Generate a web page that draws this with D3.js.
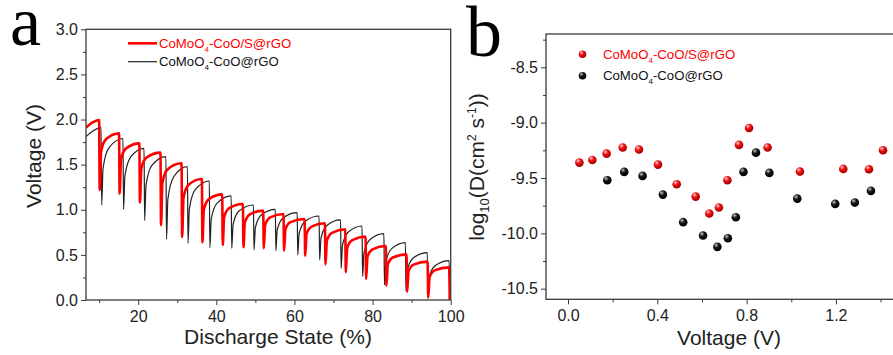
<!DOCTYPE html>
<html>
<head>
<meta charset="utf-8">
<script src="https://cdn.jsdelivr.net/npm/d3@7"></script>
<style>
  html, body { margin: 0; padding: 0; background: #fff; }
  svg { display: block; }
  text { font-family: Arial, "Liberation Sans", sans-serif; }
</style>
</head>
<body>
<svg id="chart" width="893" height="355"></svg>
<script>
// ---------- Panel a data (GITT discharge curves) ----------
const aXTicks = [20, 40, 60, 80, 100];
const aXMinor = [10, 30, 50, 70, 90];
const aYTicks = [0, 0.5, 1.0, 1.5, 2.0, 2.5, 3.0];
const aYMinor = [0.25, 0.75, 1.25, 1.75, 2.25, 2.75];

const redStart = [[6.64, 1.91], [8.2, 1.965]];
const redDropX = [10.0, 15.1, 20.3, 25.7, 31.1, 36.3, 41.5, 46.8, 52.0, 57.2, 62.6, 67.8, 73.0, 78.2, 83.4, 88.7, 94.1, 99.6];
const redPeakV = [1.995, 1.847, 1.736, 1.633, 1.515, 1.341, 1.171, 1.064, 0.99, 0.953, 0.898, 0.85, 0.783, 0.702, 0.599, 0.506, 0.425, 0.362];
const redBottomV = [1.22, 1.18, 1.08, 0.83, 0.70, 0.64, 0.61, 0.585, 0.573, 0.547, 0.488, 0.395, 0.307, 0.233, 0.159, 0.092, 0.026, 0.0];
const redKneeV = [1.646, 1.558, 1.456, 1.296, 1.136, 1.001, 0.919, 0.860, 0.831, 0.786, 0.734, 0.659, 0.576, 0.482, 0.395, 0.318, 0.254];
const redMidV = [1.784, 1.680, 1.578, 1.447, 1.277, 1.118, 1.019, 0.950, 0.915, 0.863, 0.814, 0.744, 0.663, 0.562, 0.471, 0.392, 0.328];

const blackStart = [[6.64, 1.81], [8.5, 1.875]];
const blackDropX = [10.5, 16.1, 21.5, 27.1, 32.6, 38.2, 43.8, 49.5, 55.1, 60.7, 66.3, 71.8, 77.3, 82.9, 88.4, 94.0, 99.6];
const blackPeakV = [1.91, 1.79, 1.68, 1.59, 1.478, 1.319, 1.153, 1.053, 1.005, 0.968, 0.931, 0.887, 0.82, 0.735, 0.635, 0.525, 0.436];
const blackBottomV = [1.053, 1.005, 0.88, 0.676, 0.628, 0.58, 0.573, 0.554, 0.547, 0.499, 0.443, 0.351, 0.259, 0.166, 0.10, 0.03, 0.0];
const blackKneeV = [1.458, 1.376, 1.271, 1.117, 1.008, 0.895, 0.837, 0.802, 0.779, 0.737, 0.687, 0.609, 0.521, 0.424, 0.334, 0.253];
const blackMidV = [1.687, 1.586, 1.491, 1.366, 1.222, 1.073, 0.986, 0.942, 0.909, 0.871, 0.825, 0.754, 0.668, 0.569, 0.466, 0.379];

// ---------- Panel b data (diffusion coefficients) ----------
const bXTicks = [0, 0.4, 0.8, 1.2];
const bXMinor = [0.2, 0.6, 1.0, 1.4];
const bYTicks = [-10.5, -10.0, -9.5, -9.0, -8.5];
const bYMinor = [-10.25, -9.75, -9.25, -8.75, -8.25];

const redVoltage = [0.051, 0.109, 0.173, 0.245, 0.318, 0.403, 0.487, 0.572, 0.633, 0.676, 0.714, 0.766, 0.811, 0.894, 1.039, 1.233, 1.348, 1.411];
const redLogD = [-9.361, -9.337, -9.280, -9.225, -9.243, -9.379, -9.556, -9.668, -9.821, -9.767, -9.520, -9.201, -9.048, -9.225, -9.442, -9.418, -9.421, -9.249];
const blackVoltage = [0.176, 0.252, 0.334, 0.425, 0.516, 0.605, 0.669, 0.716, 0.752, 0.786, 0.842, 0.902, 1.027, 1.197, 1.285, 1.357];
const blackLogD = [-9.520, -9.445, -9.481, -9.650, -9.899, -10.020, -10.122, -10.044, -9.854, -9.445, -9.271, -9.454, -9.686, -9.734, -9.722, -9.616];

const seriesNames = ["CoMoO", "4", "-CoO/S@rGO", "-CoO@rGO"];

// ---------- Drawing ----------
const svg = d3.select("#chart");
const RED = "#ff0000";
const BLK = "#222222";
const AX = "#3a3a3a";

const defs = svg.append("defs");
function sphereGrad(id, hi, mid, edge) {
  const g = defs.append("radialGradient").attr("id", id)
    .attr("cx", "40%").attr("cy", "35%").attr("r", "65%").attr("fx", "35%").attr("fy", "28%");
  g.append("stop").attr("offset", "0%").attr("stop-color", hi);
  g.append("stop").attr("offset", "45%").attr("stop-color", mid);
  g.append("stop").attr("offset", "100%").attr("stop-color", edge);
}
sphereGrad("gRed", "#ffd0d0", "#f01010", "#a00000");
sphereGrad("gBlk", "#c8c8c8", "#151515", "#000000");

function addTicks(g, axisFn, scale, major, minor, fmt, fontSize) {
  const ga = g.append("g").call(axisFn(scale).tickValues(major).tickFormat(fmt).tickSize(5).tickSizeOuter(0).tickPadding(3));
  ga.select(".domain").remove();
  ga.selectAll("line").attr("stroke", AX).attr("stroke-width", 1);
  ga.selectAll("text").attr("font-size", fontSize).attr("fill", "#222")
    .style("font-family", "Arial, 'Liberation Sans', sans-serif");
  const gm = g.append("g").call(axisFn(scale).tickValues(minor).tickFormat("").tickSize(3).tickSizeOuter(0));
  gm.select(".domain").remove();
  gm.selectAll("line").attr("stroke", AX).attr("stroke-width", 1);
  return ga;
}

// ===== Panel a =====
const aL = 86, aR = 450.7, aT = 29.3, aB = 300;
const xa = d3.scaleLinear().domain([6.64, 100]).range([aL, aR]);
const ya = d3.scaleLinear().domain([0, 3.0]).range([aB, aT]);

const ga = svg.append("g");
addTicks(ga.append("g").attr("transform", `translate(0,${aB})`), d3.axisBottom, xa, aXTicks, aXMinor, d => d3.format("d")(d), 16)
  .selectAll("text").attr("dy", "0.85em");
addTicks(ga.append("g").attr("transform", `translate(${aL},0)`), d3.axisLeft, ya, aYTicks, aYMinor, d => d.toFixed(1), 16);

defs.append("clipPath").attr("id", "clipA").append("rect")
  .attr("x", aL).attr("y", aT).attr("width", aR - aL).attr("height", aB - aT);

function buildCurve(start, dropX, peakV, bottomV, kneeV, midV, kneeDx, midDx) {
  const pts = start.slice();
  for (let i = 0; i < dropX.length; i++) {
    pts.push([dropX[i], peakV[i]]);
    pts.push([Math.min(dropX[i] + 0.15, 100), bottomV[i]]);
    if (i < dropX.length - 1) {
      pts.push([dropX[i] + kneeDx, kneeV[i]]);
      pts.push([dropX[i] + midDx, midV[i]]);
    }
  }
  return pts;
}
const lineA = d3.line().x(d => xa(d[0])).y(d => ya(d[1])).curve(d3.curveMonotoneX);
const blackPts = buildCurve(blackStart, blackDropX, blackPeakV, blackBottomV, blackKneeV, blackMidV, 0.5, 2.0);
const redPts = buildCurve(redStart, redDropX, redPeakV, redBottomV, redKneeV, redMidV, 0.5, 1.8);

const plotA = ga.append("g").attr("clip-path", "url(#clipA)");
plotA.append("path").attr("d", lineA(blackPts)).attr("fill", "none").attr("stroke", BLK).attr("stroke-width", 1.2);
plotA.append("path").attr("d", lineA(redPts)).attr("fill", "none").attr("stroke", RED).attr("stroke-width", 2.6);

ga.append("rect").attr("x", aL).attr("y", aT).attr("width", aR - aL).attr("height", aB - aT)
  .attr("fill", "none").attr("stroke", AX).attr("stroke-width", 1.3);

// legend a
function legendText(g, x, y, color, suffix) {
  const t = g.append("text").attr("x", x).attr("y", y).attr("font-size", 13.2).attr("fill", color);
  t.append("tspan").text(seriesNames[0]);
  t.append("tspan").attr("font-size", 8).attr("dy", 4).text(seriesNames[1]);
  t.append("tspan").attr("dy", -4).text(suffix);
}
ga.append("line").attr("x1", 128).attr("x2", 157).attr("y1", 43.3).attr("y2", 43.3).attr("stroke", RED).attr("stroke-width", 2.6);
legendText(ga, 159, 48, RED, seriesNames[2]);
ga.append("line").attr("x1", 128).attr("x2", 157).attr("y1", 61.7).attr("y2", 61.7).attr("stroke", BLK).attr("stroke-width", 1.2);
legendText(ga, 159, 66.3, "#111", seriesNames[3]);

ga.append("text").attr("x", 278).attr("y", 344).attr("text-anchor", "middle").attr("font-size", 21).attr("fill", "#222")
  .text("Discharge State (%)");
ga.append("text").attr("transform", "translate(41,156) rotate(-90)").attr("text-anchor", "middle").attr("font-size", 21).attr("fill", "#222")
  .text("Voltage (V)");
ga.append("text").attr("x", 10).attr("y", 45).attr("font-size", 70).attr("fill", "#000")
  .style("font-family", "'Liberation Serif', 'Times New Roman', serif").text("a");

// ===== Panel b =====
const bL = 546, bT = 34, bB = 299.3;
const xb = d3.scaleLinear().domain([0, 0.4]).range([568, 657.3]);
const yb = d3.scaleLinear().domain([-10.5, -8.5]).range([288.7, 67.3]);
const bR = xb(1.5);

const gb = svg.append("g");
addTicks(gb.append("g").attr("transform", `translate(0,${bB})`), d3.axisBottom, xb, bXTicks, bXMinor, d => d.toFixed(1), 16)
  .selectAll("text").attr("dy", "0.85em");
addTicks(gb.append("g").attr("transform", `translate(${bL},0)`), d3.axisLeft, yb, bYTicks, bYMinor, d => d.toFixed(1), 16);

gb.append("rect").attr("x", bL).attr("y", bT).attr("width", bR - bL).attr("height", bB - bT)
  .attr("fill", "none").attr("stroke", AX).attr("stroke-width", 1.3);

const redPtsB = redVoltage.map((v, i) => [v, redLogD[i]]);
const blackPtsB = blackVoltage.map((v, i) => [v, blackLogD[i]]);
gb.append("g").selectAll("circle").data(redPtsB).join("circle")
  .attr("cx", d => xb(d[0])).attr("cy", d => yb(d[1])).attr("r", 4.3).attr("fill", "url(#gRed)");
gb.append("g").selectAll("circle").data(blackPtsB).join("circle")
  .attr("cx", d => xb(d[0])).attr("cy", d => yb(d[1])).attr("r", 4.3).attr("fill", "url(#gBlk)");

// legend b
gb.append("circle").attr("cx", 582.5).attr("cy", 54.3).attr("r", 3.8).attr("fill", "url(#gRed)");
legendText(gb, 603, 58.6, RED, seriesNames[2]);
gb.append("circle").attr("cx", 582.5).attr("cy", 75.7).attr("r", 3.8).attr("fill", "url(#gBlk)");
legendText(gb, 603, 80, "#111", seriesNames[3]);

gb.append("text").attr("x", 729).attr("y", 345).attr("text-anchor", "middle").attr("font-size", 21).attr("fill", "#222")
  .text("Voltage (V)");
const yt = gb.append("text").attr("transform", "translate(484,167) rotate(-90)").attr("text-anchor", "middle")
  .attr("font-size", 21).attr("fill", "#222");
yt.append("tspan").text("log");
yt.append("tspan").attr("font-size", 13).attr("dy", 5).text("10");
yt.append("tspan").attr("dy", -5).text("(D(cm");
yt.append("tspan").attr("font-size", 12).attr("dy", -8).text("2");
yt.append("tspan").attr("dy", 8).text(" s");
yt.append("tspan").attr("font-size", 12).attr("dy", -8).text("-1");
yt.append("tspan").attr("dy", 8).text("))");
gb.append("text").attr("x", 466).attr("y", 56).attr("font-size", 72).attr("fill", "#000")
  .style("font-family", "'Liberation Serif', 'Times New Roman', serif").text("b");
</script>
</body>
</html>
